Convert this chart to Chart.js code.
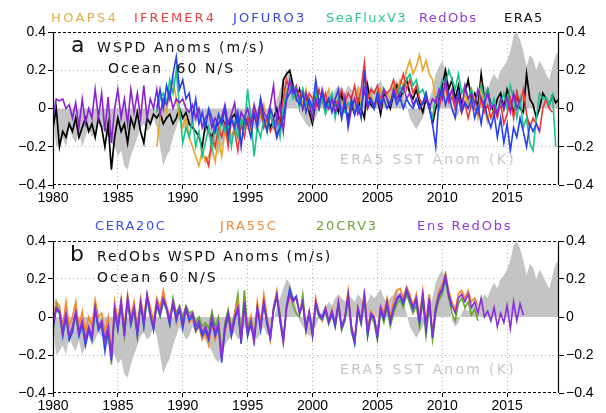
<!DOCTYPE html>
<html><head><meta charset="utf-8">
<script src="https://cdn.jsdelivr.net/npm/chart.js@4/dist/chart.umd.min.js"></script>
<style>
body{margin:0;width:606px;height:413px;background:#fff;position:relative;overflow:hidden}
.box{position:absolute;left:0;width:606px}
.t{position:absolute;font-family:'DejaVu Sans',sans-serif;font-size:13px;letter-spacing:1.9px;white-space:pre;line-height:1}
.ti{font-size:14px;letter-spacing:2.1px;color:#111}
.sst{font-size:14px;letter-spacing:2.3px;color:#c6c6c6}
</style></head><body>
<div class="box" style="top:0;height:210px"><canvas id="ca"></canvas></div>
<div class="box" style="top:210px;height:203px"><canvas id="cb"></canvas></div>

<div class="t" style="left:51px;top:11px;color:#e2ae48;letter-spacing:2.4px">HOAPS4</div>
<div class="t" style="left:134px;top:11px;color:#ee3e3e;letter-spacing:2.1px">IFREMER4</div>
<div class="t" style="left:233px;top:11px;color:#3846e0;letter-spacing:2.1px">JOFURO3</div>
<div class="t" style="left:326px;top:11px;color:#2ec688;letter-spacing:1.4px">SeaFluxV3</div>
<div class="t" style="left:419px;top:11px;color:#9038dc;letter-spacing:1.4px">RedObs</div>
<div class="t" style="left:504px;top:11px;color:#111;letter-spacing:1.5px">ERA5</div>

<div class="t" style="left:95px;top:219px;color:#3a50e8;letter-spacing:1.6px">CERA20C</div>
<div class="t" style="left:220px;top:219px;color:#ee8a3e;letter-spacing:1.8px">JRA55C</div>
<div class="t" style="left:316px;top:219px;color:#6aa232;letter-spacing:1.8px">20CRV3</div>
<div class="t" style="left:417px;top:219px;color:#9038dc;letter-spacing:1.8px">Ens RedObs</div>

<div class="t ti" style="left:71px;top:34px;font-size:22px;letter-spacing:0">a</div>
<div class="t ti" style="left:97px;top:40px">WSPD Anoms (m/s)</div>
<div class="t ti" style="left:108px;top:61px">Ocean  60 N/S</div>
<div class="t sst" style="left:340px;top:152px">ERA5 SST Anom (K)</div>

<div class="t ti" style="left:70px;top:243px;font-size:22px;letter-spacing:0">b</div>
<div class="t ti" style="left:97px;top:249px;letter-spacing:1.8px">RedObs WSPD Anoms (m/s)</div>
<div class="t ti" style="left:97px;top:270px">Ocean 60 N/S</div>
<div class="t sst" style="left:340px;top:362px">ERA5 SST Anom (K)</div>

<script>
// quarterly values, x = start year + index * 0.25
const yTicks = [-0.4, -0.2, 0, 0.2, 0.4];
const xTickYears = [1980, 1985, 1990, 1995, 2000, 2005, 2010, 2015];

const sstStart = 1980;
const sst = [
-0.05,-0.20,-0.18,-0.15, -0.20,-0.10,-0.15,-0.18, -0.12,-0.20,-0.15,-0.10, -0.15,-0.12,-0.08,-0.10,
-0.12,-0.15,-0.18,-0.20, -0.25,-0.22,-0.30,-0.32, -0.25,-0.20,-0.15,-0.10, -0.08,-0.12,-0.10,-0.05,
-0.10,-0.20,-0.30,-0.25, -0.22,-0.15,-0.10,-0.05, -0.08,-0.12,-0.10,-0.05, -0.08,-0.05,-0.10,-0.12,
-0.15,-0.18,-0.22,-0.24, -0.20,-0.15,-0.12,-0.10, -0.08,-0.12,-0.10,-0.05, -0.08,-0.05,-0.10,-0.12,
-0.08,-0.05,-0.10,-0.05, -0.02,0.05,0.10,0.15, 0.20,0.18,0.12,0.05, -0.02,-0.05,-0.08,-0.10,
-0.08,-0.05,0.00,0.03, 0.05,0.08,0.06,0.10, 0.12,0.10,0.08,0.12, 0.10,0.08,0.12,0.10,
0.06,0.08,0.12,0.10, 0.12,0.15,0.10,0.08, 0.10,0.12,0.15,0.10, 0.08,0.02,-0.05,-0.08,
-0.11,-0.08,-0.05,0.00, 0.05,0.10,0.18,0.22, 0.25,0.20,0.08,-0.02, -0.05,-0.03,0.02,0.05,
0.03,0.05,0.08,0.05, 0.08,0.12,0.10,0.15, 0.18,0.15,0.20,0.22, 0.25,0.30,0.38,0.40,
0.36,0.30,0.22,0.28, 0.26,0.20,0.25,0.22, 0.18,0.15,0.22,0.28, 0.30];

const era5Start = 1980;
const era5 = [
-0.10,0.00,-0.20,-0.12, -0.15,-0.08,-0.12,-0.05, -0.15,-0.10,-0.05,-0.12, -0.08,-0.15,-0.05,-0.10,
-0.20,-0.08,-0.32,-0.15, -0.05,-0.12,-0.08,-0.18, -0.05,-0.10,-0.02,-0.12, -0.18,-0.05,-0.08,-0.03,
-0.05,-0.02,-0.08,-0.05, -0.03,-0.08,-0.05,0.00, -0.05,-0.02,-0.08,-0.10, -0.12,-0.15,-0.20,-0.08,
-0.12,-0.15,-0.10,-0.08, -0.05,-0.08,-0.10,-0.05, -0.03,-0.08,-0.05,-0.10, -0.05,-0.10,-0.02,-0.05,
0.00,-0.08,-0.05,-0.10, -0.05,0.00,-0.08,0.15, 0.18,0.20,0.12,0.05, 0.10,0.00,0.05,-0.02,
-0.08,0.05,0.00,0.08, 0.02,0.05,0.00,0.03, -0.02,0.08,0.00,-0.05, 0.02,-0.03,0.05,0.00,
-0.05,0.12,0.02,0.00, 0.05,-0.03,0.08,0.05, 0.00,0.08,0.12,0.05, 0.10,0.15,0.08,0.05,
0.10,0.03,-0.02,0.05, 0.02,-0.08,0.00,0.05, 0.12,0.20,0.10,0.15, 0.05,0.12,0.02,0.08,
0.15,0.05,0.08,0.00, 0.18,0.05,0.10,0.02, -0.02,0.05,0.08,0.00, 0.10,0.05,-0.03,0.08,
0.00,-0.02,0.18,0.05, 0.02,-0.05,0.00,0.08, 0.05,0.02,0.07,0.03, 0.05];

const redObsStart = 1980;
const redObs = [
-0.05,0.05,0.04,0.05, 0.00,0.02,-0.05,0.03, -0.10,0.05,-0.08,0.00, -0.05,0.10,-0.05,0.08,
-0.12,0.06,-0.18,0.00, 0.10,-0.05,0.05,-0.08, 0.10,-0.02,0.08,-0.05, 0.12,-0.05,0.05,0.00,
0.10,-0.03,0.05,0.02, 0.08,0.00,0.05,0.03, 0.05,0.00,-0.02,0.02, -0.05,0.00,-0.10,-0.05,
-0.02,-0.10,-0.05,-0.08, -0.05,0.02,-0.08,-0.03, 0.03,-0.10,-0.02,-0.05, 0.00,-0.08,0.02,-0.05,
0.05,-0.02,-0.05,0.02, 0.12,-0.08,0.02,-0.12, 0.05,0.15,0.08,0.10, 0.05,0.00,0.08,0.02,
-0.05,0.05,0.00,0.10, 0.02,0.00,0.05,-0.02, 0.03,-0.05,0.06,-0.10, 0.00,0.05,-0.03,0.00,
0.10,0.00,0.05,0.02, 0.05,0.00,0.10,0.05, 0.02,0.10,0.05,0.08, 0.12,0.05,0.08,0.02,
0.05,0.00,0.03,0.05, 0.00,0.05,0.03,0.10, 0.05,0.15,0.05,0.10, 0.03,0.08,0.00,0.12,
0.05,0.08,0.02,0.10, 0.05,0.02,0.08,0.00, 0.02,-0.03,0.05,0.00, 0.06,-0.02,0.08,0.00, 0.05];

const hoapsStart = 1988;
const hoaps = [
-0.20,-0.05,0.05,-0.02, 0.10,0.15,0.05,-0.05, -0.10,-0.05,-0.15,-0.20, -0.25,-0.30,-0.22,-0.28,
-0.25,-0.20,-0.28,-0.15, -0.25,-0.12,-0.08,-0.15, -0.10,-0.15,-0.05,-0.10, -0.08,-0.12,0.00,-0.05,
-0.05,0.02,-0.08,-0.03, -0.10,-0.05,-0.12,0.00, 0.10,0.12,0.08,0.05, 0.08,0.02,0.10,0.00,
0.05,0.10,0.02,0.08, 0.05,0.10,0.00,0.05, 0.08,0.02,0.05,0.00, 0.05,-0.02,0.10,0.03,
0.15,0.05,0.08,0.00, 0.05,0.10,0.03,0.08, 0.05,0.12,0.08,0.15, 0.12,0.20,0.25,0.18,
0.22,0.28,0.20,0.25, 0.18,0.15,0.05,0.02, 0.05,0.10,0.05,0.08, 0.00,0.05,-0.02,0.08,
0.02,0.10,0.05,-0.05, 0.12,0.00,-0.07,0.02, 0.00];

const ifremerStart = 1991.75;
const ifremer = [
-0.25, -0.30,-0.15,-0.20,-0.10, -0.15,-0.08,-0.20,-0.05, -0.12,-0.22,-0.08,-0.15, -0.05,-0.10,-0.02,-0.08,
0.00,-0.10,-0.05,-0.12, -0.08,-0.15,-0.05,0.05, 0.15,0.10,0.08,0.12, 0.05,0.10,0.02,0.08,
0.05,0.00,0.10,0.03, 0.08,0.00,0.05,0.02, 0.05,0.10,0.03,0.08, 0.05,0.12,0.02,0.10,
0.24,0.05,0.10,0.08, 0.12,0.05,0.10,0.08, 0.10,0.15,0.08,0.12, 0.18,0.10,0.15,0.08,
0.12,0.05,0.02,0.08, 0.00,-0.05,0.05,0.00, 0.08,0.12,0.03,0.06, 0.00,0.05,-0.02,0.03,
-0.05,0.02,0.00,-0.03, 0.05,-0.02,0.02,-0.05, 0.00,-0.05,0.03,-0.08, -0.03,0.05,-0.05,0.08,
0.02,0.10,-0.03,-0.10, -0.05,-0.08,-0.12,0.00, 0.05,0.00,-0.02];

const jofuroStart = 1988;
const jofuro = [
0.00,0.10,0.00,0.12, 0.05,0.18,0.27,0.10, 0.15,0.05,0.08,-0.05, 0.05,-0.08,-0.02,-0.10,
0.00,-0.05,-0.12,-0.03, -0.08,0.00,-0.15,-0.05, -0.10,-0.02,-0.20,-0.05, -0.08,-0.15,-0.03,-0.10,
0.05,-0.05,-0.12,0.00, -0.05,-0.15,-0.10,-0.05, 0.05,0.08,0.12,0.05, 0.02,0.08,-0.02,0.05,
0.00,0.15,0.03,0.08, 0.00,0.05,-0.02,0.05, 0.10,-0.05,0.03,-0.08, 0.05,-0.03,0.02,-0.05,
0.20,0.02,0.05,0.00, 0.08,0.02,0.05,0.00, 0.03,0.08,0.02,0.06, 0.00,0.05,0.02,0.00,
0.05,0.00,0.03,0.08, 0.00,-0.08,-0.20,0.05, 0.10,0.02,0.08,0.00, -0.05,0.08,-0.02,0.03,
0.00,0.05,-0.05,0.02, -0.08,0.03,-0.05,-0.10, -0.03,-0.15,-0.05,-0.18, -0.08,-0.22,-0.10,-0.15,
-0.05,-0.12,-0.20,-0.08, -0.12,-0.08,-0.12];

const seafluxStart = 1988;
const seaflux = [
-0.02,0.05,0.08,0.03, 0.15,0.08,0.20,0.00, -0.18,-0.10,-0.15,-0.05, -0.20,-0.12,-0.25,-0.18,
-0.10,-0.22,-0.08,-0.15, -0.05,-0.12,-0.08,-0.20, -0.08,-0.15,-0.05,-0.10, 0.10,-0.05,-0.25,-0.10,
-0.15,-0.05,-0.12,-0.03, -0.10,-0.05,-0.15,0.00, 0.08,0.12,0.05,0.10, 0.00,0.10,0.02,0.05,
-0.05,0.10,0.00,0.05, -0.03,0.02,0.08,-0.05, 0.05,0.00,-0.02,0.03, 0.00,0.05,-0.02,0.02,
0.10,0.03,0.05,0.00, 0.08,0.03,0.10,0.05, 0.02,0.10,0.05,0.12, 0.08,0.15,0.18,0.12,
0.15,0.08,0.10,0.05, 0.00,-0.05,0.05,0.08, 0.15,0.12,0.20,0.15, 0.10,0.18,0.08,0.12,
0.05,0.10,0.02,0.08, 0.12,0.05,0.10,0.00, 0.05,-0.02,0.03,0.08, 0.00,0.12,0.05,-0.05,
0.05,-0.10,-0.05,-0.18, -0.22,-0.05,0.08,0.05, 0.06,0.02,0.07,-0.20];

const ensStart = 1980;
const ensRedObs = [
-0.05,0.05,0.03,-0.08, 0.02,-0.10,-0.05,0.03, -0.08,-0.02,-0.12,-0.05, -0.10,0.05,-0.05,-0.02,
-0.12,-0.05,-0.22,0.05, -0.05,0.08,-0.08,0.10, -0.02,0.05,-0.08,0.08, -0.03,0.12,0.02,-0.05,
0.08,0.02,0.10,0.05, -0.02,0.08,0.00,0.05, -0.03,0.05,0.00,0.02, -0.05,-0.02,-0.08,-0.05,
-0.10,0.00,-0.08,-0.03, -0.22,-0.05,0.02,-0.08, 0.00,0.05,-0.12,0.08, -0.08,-0.02,-0.12,0.05,
-0.05,0.08,-0.02,-0.10, 0.05,0.12,0.00,-0.12, 0.05,0.12,0.08,0.10, 0.02,0.08,-0.05,0.03,
-0.08,0.08,0.02,0.00, 0.05,-0.02,0.03,-0.03, 0.08,-0.05,0.00,0.12, -0.05,-0.12,0.05,-0.02,
0.12,-0.08,0.02,0.00, -0.10,0.05,0.00,0.08, -0.02,0.05,0.10,0.12, 0.08,0.15,0.10,0.05,
0.10,-0.02,0.12,-0.05, 0.10,-0.10,0.05,0.12, 0.15,0.22,0.12,0.06, 0.02,0.10,0.12,0.08,
0.12,0.05,0.08,0.02, 0.10,0.00,0.03,-0.02, 0.05,-0.05,0.02,-0.03, 0.06,-0.06,0.08,-0.02,
0.07,0.01];

const jraStart = 1980;
const jra55c = [
-0.03,0.08,0.06,-0.05, 0.08,-0.05,0.00,0.08, -0.05,0.03,-0.08,0.00, -0.05,0.09,0.00,0.02,
-0.08,0.00,-0.20,0.08, -0.02,0.10,-0.05,0.12, 0.00,0.08,-0.05,0.10, 0.00,0.12,0.05,-0.02,
0.10,0.05,0.14,0.06, 0.00,0.08,-0.03,0.05, -0.05,0.04,-0.03,0.00, -0.08,-0.05,-0.12,-0.08,
-0.15,-0.03,-0.12,-0.05, -0.20,-0.08,0.00,-0.10, 0.02,0.08,-0.14,0.05, -0.10,0.00,-0.15,0.08,
-0.03,0.12,0.00,-0.12, 0.05,0.14,-0.02,-0.14, 0.05,0.10,0.09,0.10, 0.02,0.07,-0.08,0.03,
-0.10,0.10,0.02,-0.02, 0.05,-0.03,0.04,-0.05, 0.08,-0.06,0.00,0.14, -0.05,-0.12,0.05,-0.02,
0.14,-0.06,0.03,0.00, -0.08,0.06,0.02,0.10, 0.00,0.08,0.14,0.15, 0.10,0.16,0.12,0.06,
0.12,0.00,0.14,-0.03, 0.12,-0.08,0.06,0.14, 0.17,0.23,0.14,0.08, 0.04,0.12,0.14,0.10,
0.14,0.08,0.10,0.06];

const crStart = 1980;
const cr20v3 = [
-0.08,0.08,0.02,-0.10, 0.00,-0.12,-0.06,0.02, -0.10,-0.04,-0.14,-0.06, -0.12,0.04,-0.06,-0.04,
-0.14,-0.06,-0.25,0.04, -0.06,0.06,-0.10,0.08, -0.04,0.04,-0.10,0.06, -0.05,0.10,0.00,-0.06,
0.06,0.00,0.08,0.04, -0.04,0.10,0.02,0.06, 0.00,0.06,0.02,0.03, -0.03,0.00,-0.05,-0.03,
-0.06,0.03,-0.05,0.00, -0.20,-0.03,0.04,-0.06, 0.02,0.12,-0.10,0.14, -0.06,0.00,-0.10,0.06,
-0.04,0.07,-0.04,-0.12, 0.03,0.10,0.02,-0.12, 0.04,0.14,0.06,0.02, 0.00,0.12,-0.06,0.02,
-0.10,0.06,0.00,-0.02, 0.03,-0.04,0.01,-0.05, 0.06,-0.07,-0.02,0.10, -0.08,-0.14,0.03,-0.04,
0.10,-0.10,0.00,-0.03, -0.12,0.03,-0.03,0.05, -0.05,0.02,0.07,0.09, 0.05,0.12,0.07,0.02,
0.06,-0.05,0.08,-0.10, 0.06,-0.12,0.02,0.09, 0.12,0.20,0.10,0.02, -0.02,0.07,0.10,0.05,
0.08,0.01,0.04,-0.02];

const ceraStart = 1980;
const cera20c = [
-0.06,0.04,0.02,-0.10, 0.00,-0.12,-0.08,0.02, -0.10,-0.04,-0.15,-0.07, -0.12,0.04,-0.07,-0.04,
-0.18,-0.07,-0.23,0.03, -0.07,0.07,-0.10,0.09, -0.04,0.04,-0.10,0.07, -0.05,0.11,0.01,-0.07,
0.07,0.01,0.09,0.04, -0.04,0.07,-0.02,0.04, -0.06,0.04,-0.02,0.01, -0.07,-0.04,-0.10,-0.07,
-0.12,-0.02,-0.10,-0.05, -0.24,-0.07,0.01,-0.10, -0.02,0.04,-0.14,0.07, -0.10,-0.04,-0.13,0.04,
-0.07,0.07,-0.04,-0.11, 0.04,0.11,-0.02,-0.13, 0.06,0.15,0.09,0.11, 0.02,0.07,-0.07,0.02,
-0.10,0.07,0.01,-0.01, 0.04,-0.03,0.02,-0.05, 0.07,-0.06,-0.01,0.11, -0.06,-0.14,0.04,-0.03,
0.11,-0.10,0.01,-0.01, -0.11,0.04,-0.01,0.07, -0.03,0.04,0.09,0.11, 0.07,0.14,0.09,0.04,
0.09,-0.03,0.11,-0.07, 0.09,-0.11,0.04,0.11, 0.14,0.21,0.11,0.05];

function pts(start, vals){ return vals.map((v,i)=>({x:start+i*0.25, y:v})); }
function line(label, start, vals, color, order, width){
  return {label, data:pts(start, vals), borderColor:color, borderWidth:width||1.6,
    pointRadius:0, fill:false, tension:0, order};
}
function shade(){
  return {label:'ERA5 SST', data:pts(sstStart, sst), borderWidth:0, borderColor:'rgba(0,0,0,0)',
    backgroundColor:'#c4c4c4', pointRadius:0, fill:'origin', tension:0, order:100};
}
const near = (a,b)=>Math.abs(a-b)<1e-6;
const fmt = v => near(v,0) ? '0' : (v<0?'\u2212':'') + Math.abs(v).toFixed(1);

const frame = {
  id:'frame',
  afterDraw(c){
    const a=c.chartArea, ctx=c.ctx;
    ctx.save();
    ctx.strokeStyle='#000'; ctx.lineWidth=1.2;
    ctx.beginPath(); ctx.moveTo(a.left+0.5,a.top); ctx.lineTo(a.left+0.5,a.bottom);
    ctx.moveTo(a.right-0.5,a.top); ctx.lineTo(a.right-0.5,a.bottom); ctx.stroke();
    ctx.setLineDash([3,2]); ctx.lineWidth=1;
    ctx.beginPath(); ctx.moveTo(a.left,a.top+0.5); ctx.lineTo(a.right,a.top+0.5);
    ctx.moveTo(a.left,a.bottom-0.5); ctx.lineTo(a.right,a.bottom-0.5); ctx.stroke();
    ctx.restore();
  }
};

function opts(topPad, xH){
  const tickFont = {family:"'Liberation Sans', Arial, sans-serif", size:14};
  const yAxis = (pos, w, grid) => ({
    type:'linear', position:pos, min:-0.4, max:0.4,
    afterBuildTicks: s => { s.ticks = yTicks.map(v=>({value:v})); },
    afterFit: s => { s.width = w; },
    ticks:{ callback: v=>fmt(v), font:tickFont, color:'#000', padding:2 },
    grid:{ drawOnChartArea:grid, color: ctx => (Math.abs(Math.abs(ctx.tick.value)-0.2)<1e-6 ? '#b0b0b0' : 'rgba(0,0,0,0)'),
           tickColor:'#000', tickLength:5, lineWidth:1 },
    border:{ display:false, dash:[1,3] }
  });
  return {
    responsive:true, maintainAspectRatio:false, animation:false, devicePixelRatio:1,
    layout:{ padding:{ top:topPad, left:0, right:0, bottom:0 } },
    plugins:{ legend:{display:false}, tooltip:{enabled:false} },
    scales:{
      x:{ type:'linear', min:1980, max:2019,
        afterBuildTicks: s => { s.ticks = xTickYears.map(v=>({value:v})); },
        afterFit: s => { s.height = xH; },
        ticks:{ callback:v=>String(v), font:tickFont, color:'#000', padding:1, maxRotation:0 },
        grid:{ color: ctx => (ctx.tick && ctx.tick.value>1980 ? '#b0b0b0' : 'rgba(0,0,0,0)'),
               tickColor:'#000', tickLength:4, lineWidth:1 },
        border:{ display:false, dash:[1,3] } },
      y: yAxis('left', 53, true),
      y2: yAxis('right', 47, false)
    }
  };
}

new Chart(document.getElementById('ca'), {
  type:'line',
  data:{ datasets:[
    shade(),
    line('ERA5', era5Start, era5, '#000000', 7, 1.7),
    line('HOAPS4', hoapsStart, hoaps, '#e6a82a', 6),
    line('IFREMER4', ifremerStart, ifremer, '#f03434', 5),
    line('SeaFluxV3', seafluxStart, seaflux, '#14c48c', 4),
    line('RedObs', redObsStart, redObs, '#8a22d4', 3),
    line('JOFURO3', jofuroStart, jofuro, '#2440f2', 2)
  ]},
  options: opts(32, 25),
  plugins:[frame]
});

new Chart(document.getElementById('cb'), {
  type:'line',
  data:{ datasets:[
    shade(),
    line('20CRV3', crStart, cr20v3, '#62a82a', 5),
    line('JRA55C', jraStart, jra55c, '#f0872e', 4),
    line('CERA20C', ceraStart, cera20c, '#2c48f0', 3),
    line('Ens RedObs', ensStart, ensRedObs, '#8a2ed8', 2)
  ]},
  options: opts(31, 20),
  plugins:[frame]
});
</script>
</body></html>
